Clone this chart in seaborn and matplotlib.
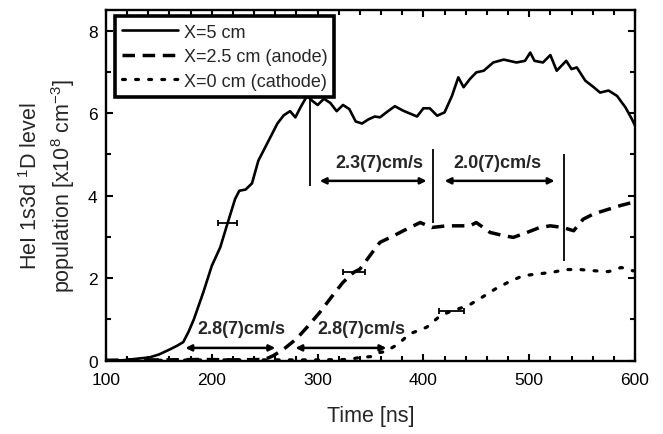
import numpy as np
import pandas as pd
import matplotlib
matplotlib.use("Agg")
import matplotlib.pyplot as plt
import seaborn as sns
from matplotlib.lines import Line2D

# ---- data ----
t_x5 = [100, 110, 120, 130, 141, 150, 160, 167, 173, 178, 183, 192, 200, 208, 215, 222,
        226, 232, 238, 244, 250, 256, 262, 268, 274, 279, 284, 290, 295, 300, 306, 312,
        318, 324, 330, 336, 342, 348, 354, 359, 365, 373, 381, 394, 400, 406, 413, 420,
        427, 433, 438, 444, 450, 457, 466, 476, 488, 496, 501, 505, 513, 520, 526, 535,
        540, 545, 553, 561, 567, 575, 583, 591, 597, 600]
y_x5 = [0.0, 0.0, 0.02, 0.05, 0.08, 0.15, 0.27, 0.36, 0.45, 0.7, 1.0, 1.66, 2.3, 2.75, 3.34, 3.92,
        4.12, 4.15, 4.3, 4.85, 5.15, 5.45, 5.75, 5.95, 6.05, 5.9, 6.15, 6.42, 6.3, 6.2, 6.35, 6.25,
        6.05, 6.2, 6.1, 5.8, 5.75, 5.85, 5.92, 5.9, 6.02, 6.17, 6.06, 5.92, 6.12, 6.12, 5.94, 6.02,
        6.42, 6.87, 6.63, 6.83, 6.99, 7.03, 7.23, 7.3, 7.23, 7.27, 7.47, 7.27, 7.23, 7.41, 7.03, 7.27,
        7.07, 7.11, 6.79, 6.63, 6.5, 6.55, 6.42, 6.14, 5.86, 5.7]

t_x25 = [100, 130, 160, 190, 220, 250, 258, 268, 280, 290, 302, 313, 324, 334, 340, 353, 359,
         372, 381, 397, 408, 422, 431, 444, 450, 463, 476, 485, 498, 510, 520, 532, 542, 551,
         561, 576, 586, 598, 600]
y_x25 = [0.01, 0.02, 0.02, 0.03, 0.02, 0.03, 0.12, 0.28, 0.53, 0.81, 1.17, 1.54, 1.9, 2.14, 2.22,
         2.67, 2.87, 3.03, 3.15, 3.35, 3.23, 3.27, 3.27, 3.27, 3.35, 3.11, 3.03, 2.99, 3.11, 3.23,
         3.27, 3.23, 3.15, 3.43, 3.56, 3.68, 3.76, 3.84, 3.85]

t_x0 = [100, 150, 200, 250, 300, 330, 340, 351, 359, 364, 376, 387, 403, 416, 427, 442, 455,
        468, 480, 494, 507, 521, 535, 548, 562, 575, 587, 598, 600]
y_x0 = [0.0, 0.01, 0.02, 0.02, 0.02, 0.03, 0.08, 0.1, 0.2, 0.22, 0.4, 0.65, 0.81, 1.09, 1.21,
        1.33, 1.53, 1.74, 1.9, 2.06, 2.1, 2.14, 2.21, 2.21, 2.18, 2.16, 2.26, 2.18, 2.18]

series_names = ["X=5 cm", "X=2.5 cm (anode)", "X=0 cm (cathode)"]

# error bars (centre time, value, half width)
err_t = [215, 334.5, 426.5]
err_y = [3.34, 2.14, 1.21]
err_dt = [9, 10.5, 11.5]

# velocity annotations
vel_labels = ["2.8(7)cm/s", "2.8(7)cm/s", "2.3(7)cm/s", "2.0(7)cm/s"]
arrow_t0 = [175, 279, 302, 420]
arrow_t1 = [260, 365, 403, 524]
arrow_y = [0.31, 0.31, 4.36, 4.36]
label_t = [228, 341, 358, 470]
label_y = [0.77, 0.77, 4.81, 4.81]

vline_t = [293, 409, 533]
vline_y0 = [4.24, 3.35, 2.42]
vline_y1 = [6.4, 5.13, 5.01]

# ---- build long table ----
df = pd.concat([
    pd.DataFrame({"t": t_x5, "y": y_x5, "series": series_names[0]}),
    pd.DataFrame({"t": t_x25, "y": y_x25, "series": series_names[1]}),
    pd.DataFrame({"t": t_x0, "y": y_x0, "series": series_names[2]}),
], ignore_index=True)

sns.set_theme(style="ticks")
plt.rcParams["font.family"] = ["Liberation Sans", "DejaVu Sans"]
plt.rcParams["mathtext.fontset"] = "custom"
plt.rcParams["mathtext.rm"] = "Liberation Sans"
plt.rcParams["mathtext.it"] = "Liberation Sans:italic"
plt.rcParams["mathtext.bf"] = "Liberation Sans:bold"

fig = plt.figure(figsize=(6.63, 4.35), dpi=100)
ax = fig.add_axes([106 / 663, (435 - 361.7) / 435, 529 / 663, 350.6 / 435])

dash_map = {series_names[0]: "", series_names[1]: (3.6, 2.2), series_names[2]: (0.9, 3.2)}
sns.lineplot(data=df, x="t", y="y", style="series", dashes=dash_map,
             color="black", sort=False, estimator=None, ax=ax, legend=False)
lws = [1.9, 2.5, 2.3]
for line, lw in zip(ax.lines[:3], lws):
    line.set_linewidth(lw)
ax.lines[2].set_dash_capstyle("round")

# legend
handles = [
    Line2D([], [], color="black", lw=1.9),
    Line2D([], [], color="black", lw=2.5, dashes=(3.6, 2.2)),
    Line2D([], [], color="black", lw=2.3, dashes=(0.9, 3.2), dash_capstyle="round"),
]
leg = ax.legend(handles, series_names, loc="upper left", bbox_to_anchor=(0.017, 0.982),
                borderaxespad=0, frameon=True, fancybox=False, handlelength=3.1,
                handletextpad=0.3, fontsize=13, borderpad=0.4, labelspacing=0.42)
leg.get_frame().set_edgecolor("black")
leg.get_frame().set_linewidth(2.6)
leg.get_frame().set_alpha(1)

# error bars
ax.errorbar(err_t, err_y, xerr=err_dt, fmt="none", ecolor="black", elinewidth=1.3,
            capsize=2.5, capthick=1.3)

# vertical lines
ax.vlines(vline_t, vline_y0, vline_y1, color="black", lw=1.3)

# arrows and labels
for lab, a0, a1, ay, lt, ly in zip(vel_labels, arrow_t0, arrow_t1, arrow_y, label_t, label_y):
    ax.annotate("", xy=(a1, ay), xytext=(a0, ay),
                arrowprops=dict(arrowstyle="<|-|>", color="black", lw=1.8,
                                mutation_scale=9, shrinkA=0, shrinkB=0))
    ax.text(lt, ly, lab, ha="center", va="center", fontsize=13, fontweight="bold")

ax.set_xlim(100, 600)
ax.set_ylim(0, 8.5)
ax.set_xticks([100, 200, 300, 400, 500, 600])
ax.set_yticks([0, 2, 4, 6, 8])
ax.set_xticks(np.arange(100, 601, 20), minor=True)
ax.set_yticks(np.arange(0, 8.6, 1), minor=True)
ax.tick_params(which="both", direction="in", top=True, right=True, width=1.5, colors="black")
ax.tick_params(which="major", length=5, labelsize=12.5)
ax.tick_params(axis="x", which="major", pad=8)
ax.tick_params(axis="y", which="major", pad=6)
ax.tick_params(which="minor", length=3.5)
for s in ax.spines.values():
    s.set_linewidth(1.7)
    s.set_color("black")

ax.set_xlabel("Time [ns]", fontsize=15.5, labelpad=13)
ax.set_ylabel("HeI 1s3d $^1$D level\npopulation [x10$^8$ cm$^{-3}$]", fontsize=15.5,
              linespacing=1.35, labelpad=8)

fig.savefig("out.png", dpi=100)
